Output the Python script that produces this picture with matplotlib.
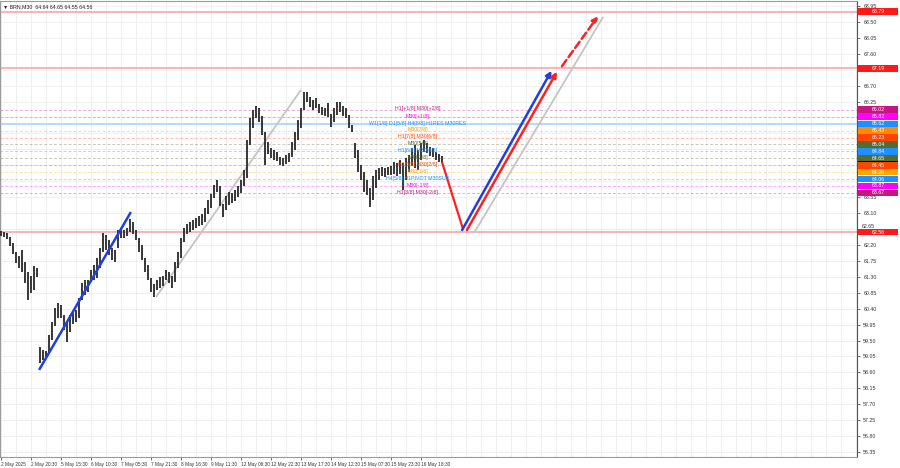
import matplotlib
matplotlib.use("Agg")
import matplotlib.pyplot as plt
from matplotlib.transforms import blended_transform_factory
from matplotlib.patches import Rectangle
import numpy as np

plt.rcParams['font.family'] = ['Liberation Sans', 'DejaVu Sans']

# ---------------- data ----------------
title = "\u25bc BRN,M30  64.64 64.65 64.55 64.56"

highs = [62.59, 62.57, 62.54, 62.42, 62.25, 62.00, 61.89, 62.06, 61.72, 61.44, 61.32, 61.60, 61.55,
         59.32, 59.23, 59.20, 59.66, 60.02, 60.42, 60.56, 60.50, 60.22, 60.02, 60.22, 60.31, 60.36,
         60.70, 61.12, 61.21, 61.21, 61.49, 61.63, 61.83, 62.11, 62.54, 62.48, 62.34, 62.11, 62.06,
         62.62, 62.68, 62.62, 62.68, 62.93, 62.85, 62.62, 62.40, 62.20, 61.83, 61.63, 61.27, 61.10,
         61.21, 61.29, 61.32, 61.49, 61.44, 61.32, 61.72, 62.00, 62.40, 62.68, 62.79, 62.85, 62.90,
         62.96, 63.02, 63.07, 63.24, 63.47, 63.64, 63.89, 64.03, 63.86, 63.36, 63.58, 63.70, 63.67,
         63.75, 63.86, 64.03, 64.32, 65.16, 65.79, 66.01, 66.12, 66.07, 65.84, 65.39, 65.11, 64.94,
         64.88, 64.83, 64.68, 64.66, 64.74, 64.80, 65.11, 65.39, 65.73, 66.07, 66.52, 66.52, 66.38,
         66.29, 66.35, 66.18, 66.10, 66.07, 66.21, 65.90, 66.07, 66.24, 66.24, 66.12, 66.07, 65.87,
         65.59, 65.08, 64.88, 64.46, 64.26, 64.03, 63.81, 64.15, 64.32, 64.37, 64.40, 64.37, 64.40,
         64.43, 64.54, 64.51, 64.60, 64.51, 64.66, 64.74, 64.94, 65.02, 64.88, 65.08, 65.16, 65.08,
         64.97, 64.94, 64.83, 64.77, 64.71]
lows = [62.45, 62.42, 62.37, 62.17, 61.94, 61.69, 61.55, 61.44, 61.12, 60.64, 60.84, 60.93, 61.29,
        58.86, 58.95, 59.01, 59.18, 59.51, 59.91, 60.14, 60.14, 59.80, 59.46, 59.74, 59.97, 60.02,
        60.14, 60.64, 60.79, 60.87, 61.15, 61.21, 61.27, 61.55, 62.00, 62.06, 61.92, 61.77, 61.72,
        62.11, 62.40, 62.40, 62.45, 62.57, 62.51, 62.34, 62.00, 61.77, 61.44, 61.21, 60.87, 60.73,
        60.93, 60.98, 61.04, 61.21, 61.12, 60.98, 61.15, 61.55, 61.83, 62.28, 62.51, 62.57, 62.62,
        62.68, 62.73, 62.76, 62.85, 63.07, 63.24, 63.53, 63.70, 63.30, 62.99, 63.19, 63.33, 63.38,
        63.44, 63.55, 63.67, 63.86, 64.09, 65.02, 65.50, 65.79, 65.67, 65.31, 64.46, 64.77, 64.66,
        64.60, 64.57, 64.46, 64.43, 64.49, 64.54, 64.68, 64.88, 65.16, 65.50, 66.01, 66.24, 66.10,
        66.01, 66.07, 65.93, 65.87, 65.84, 65.81, 65.53, 65.67, 65.87, 65.96, 65.84, 65.79, 65.50,
        65.39, 64.66, 64.26, 64.03, 63.70, 63.61, 63.27, 63.47, 63.81, 64.03, 64.15, 64.12, 64.18,
        64.18, 64.20, 64.15, 64.20, 63.75, 64.03, 64.26, 64.43, 64.37, 64.32, 64.60, 64.83, 64.80,
        64.71, 64.68, 64.60, 64.54, 64.51]

time_labels = ["2 May 2025", "2 May 20:30", "5 May 15:30", "6 May 10:30", "7 May 05:30",
               "7 May 21:30", "8 May 16:30", "9 May 11:30", "12 May 06:30", "12 May 22:30",
               "13 May 17:30", "14 May 12:30", "15 May 07:30", "15 May 23:30", "16 May 18:30"]

yticks = [68.95, 68.50, 68.05, 67.60, 67.15, 66.70, 66.25, 65.80, 65.35, 64.90, 64.45, 64.00,
          63.55, 63.10, 62.65, 62.20, 61.75, 61.30, 60.85, 60.40, 59.95, 59.50, 59.05, 58.60,
          58.15, 57.70, 57.25, 56.80, 56.35]
# tick labels hidden under the coloured price boxes in the reference
hidden_ticks = [67.15, 65.80, 65.35, 64.90, 64.45, 64.00]
# tick label that peeks out just above a price box
raised_tick = 62.65

levels = [66.02, 65.82, 65.62, 65.43, 65.23, 65.04, 64.84, 64.65, 64.45, 64.26, 64.06, 63.87, 63.67]
level_texts = ["H1[+1/8] M30[+2/8]", "M30[+1/8]", "W1[1/8] D1[5/8] H4[8/8] H1RES M30RES",
               "M30[7/8]", "H1[7/8] M30[6/8]", "M30[5/8]", "H1[6/8] M30[4/8]", "M30[3/8]",
               "H1[5/8] M30[2/8]", "M30[1/8]", "H4[5/8] H1PIVOT M30SUP", "M30[-1/8]",
               "H1[3/8] M30[-2/8]"]
level_colors = ["#c71585", "#ff00ff", "#1e90ff", "#ff8c00", "#ff4500", "#556b2f", "#1e90ff",
                "#556b2f", "#ff4500", "#ffa500", "#1e90ff", "#ff00ff", "#c71585"]

red_levels = [68.79, 67.19, 62.56]
bid_price = 64.56

# trend lines: (x0, y0, x1, y1) in bar index / price
blue_line = (12.7, 58.67, 43.3, 63.13)
grey_line1 = (51.7, 60.73, 100.0, 66.58)
grey_line2 = (157.7, 62.54, 200.7, 68.64)
red_down = (147.0, 64.54, 154.0, 62.65)
blue_arrow = (153.7, 62.62, 183.5, 67.12)
red_arrow = (155.3, 62.62, 185.3, 67.09)
red_dash_arrow = (187.0, 67.25, 199.0, 68.66)

# ---------------- figure ----------------
W, H = 900, 468
fig = plt.figure(figsize=(W / 100, H / 100), dpi=100)
fig.patch.set_facecolor("white")
ax = fig.add_axes([0.0, 11 / H, 857 / W, 1 - 12 / H])
ax.set_facecolor("white")

ax.set_xlim(-0.33, 285.33)
ax.set_ylim(56.21, 69.09)

# grid
for xv in np.arange(0, 290, 5):
    ax.axvline(xv, color="#ededed", lw=0.6, zorder=0)
for yv in yticks:
    ax.axhline(yv, color="#ededed", lw=0.6, zorder=0)

# level lines
for lv, col in zip(levels, level_colors):
    if lv == 65.62:
        ax.axhline(lv, color="#b4dafa", lw=1.4, zorder=1)
    else:
        ax.axhline(lv, color=col, lw=0.7, alpha=0.35, ls=(0, (3, 2)), zorder=1)
for rl in red_levels:
    ax.axhline(rl, color="#f4a0a0", lw=1.1, zorder=1)

# price bars
xs = np.arange(len(highs))
ax.vlines(xs, lows, highs, color="#303030", lw=1.35, zorder=3)

def seg(line, **kw):
    x0, y0, x1, y1 = line
    ax.plot([x0, x1], [y0, y1], solid_capstyle="butt", **kw)

seg(blue_line, color="#1f3fe0", lw=1.8, zorder=4)
seg(grey_line1, color="#c4c4c4", lw=1.3, zorder=2)
seg(grey_line2, color="#c4c4c4", lw=1.3, zorder=2)
seg(red_down, color="#ff2020", lw=1.6, zorder=4)

def arrow(line, color, ls="-"):
    x0, y0, x1, y1 = line
    ax.annotate("", xy=(x1, y1), xytext=(x0, y0),
                arrowprops=dict(arrowstyle="-|>", color=color, lw=1.8, ls=ls,
                                mutation_scale=8, shrinkA=0, shrinkB=0), zorder=5)

arrow(blue_arrow, "#1f3fe0")
arrow(red_arrow, "#ff2020")
arrow(red_dash_arrow, "#ff2020", ls=(0, (3, 1.5)))

# level texts
for lv, txt, col in zip(levels, level_texts, level_colors):
    ax.text(139, lv + 0.02, txt, color=col, fontsize=3.8, ha="center", va="center", zorder=6)

# title
ax.text(0.003, 0.993, title, transform=ax.transAxes, fontsize=3.8, color="#222222",
        ha="left", va="top")

# axes styling
for s in ["top", "left", "bottom"]:
    ax.spines[s].set_color("#9a9a9a")
    ax.spines[s].set_linewidth(0.8)
ax.spines["right"].set_color("#555555")
ax.yaxis.tick_right()
ax.set_yticks(yticks)
ax.set_yticklabels(["" if (v in hidden_ticks or v == raised_tick) else f"{v:.2f}"
                    for v in yticks])
ax.tick_params(axis="y", labelsize=3.8, colors="#333333", length=2, width=0.5, pad=2.5)
ax.set_xticks([10 * k for k in range(len(time_labels))])
ax.set_xticklabels(time_labels, ha="left")
ax.tick_params(axis="x", labelsize=3.4, colors="#333333", length=2, width=0.5, pad=1.5)

# right side price boxes
tr = blended_transform_factory(ax.transAxes, ax.transData)
ax.text(1.0058, raised_tick, f"{raised_tick:.2f}", transform=tr, fontsize=3.8,
        color="#333333", ha="left", va="bottom", clip_on=False)
box_w = 40 / 857
box_h = 0.185

def price_box(v, col, z, label=True):
    ax.add_patch(Rectangle((1.0015, v - box_h / 2), box_w, box_h, transform=tr,
                           fc=col, ec="none", clip_on=False, zorder=z))
    if label:
        ax.text(1.0015 + box_w / 2, v, f"{v:.2f}", transform=tr, fontsize=3.8, color="white",
                ha="center", va="center", clip_on=False, zorder=z + 0.5)

price_box(bid_price, "black", 7, label=False)
for rl in red_levels:
    price_box(rl, "#ff1a1a", 8)
for lv, col in zip(levels, level_colors):
    price_box(lv, col, 8)

fig.savefig("out.png", dpi=100)
